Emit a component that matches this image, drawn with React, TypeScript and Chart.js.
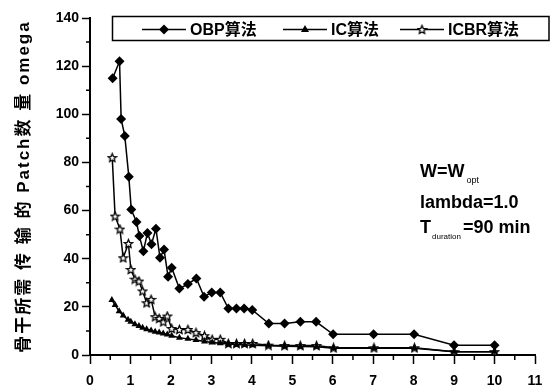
import React, { useEffect, useRef } from 'react';
import { Chart, registerables } from 'chart.js';

Chart.register(...registerables);

// ---- data ----
const obpX = [0.56, 0.73, 0.77, 0.86, 0.96, 1.02, 1.15, 1.22, 1.32, 1.42, 1.52, 1.63, 1.73, 1.83, 1.93, 2.02, 2.21, 2.42, 2.63, 2.82, 3.01, 3.22, 3.42, 3.62, 3.81, 4.01, 4.42, 4.81, 5.2, 5.59, 6.01, 7.01, 8.01, 9.0, 10.0];
const obpY = [115, 122, 98, 91, 74, 60.4, 55.3, 49.4, 43.1, 50.7, 46, 52.5, 40.4, 43.8, 32.5, 36.2, 27.6, 29.5, 31.8, 24.2, 26, 26, 19.3, 19.3, 19.3, 18.7, 13.1, 13.1, 13.8, 13.8, 8.6, 8.6, 8.6, 4.1, 4.1];

const icX = [0.54, 0.62, 0.72, 0.82, 0.94, 1.01, 1.11, 1.21, 1.3, 1.4, 1.51, 1.61, 1.71, 1.81, 1.91, 2.02, 2.21, 2.42, 2.62, 2.83, 3.02, 3.22, 3.42, 3.62, 3.82, 4.02, 4.41, 4.81, 5.2, 5.6, 6.02, 7.02, 8.02, 9.0, 10.0];
const icY = [22.8, 20.8, 18.2, 16.4, 14.6, 13.8, 12.8, 12.0, 11.3, 10.7, 10.2, 9.7, 9.3, 8.9, 8.5, 8.0, 7.2, 6.7, 6.2, 5.6, 5.2, 4.9, 4.6, 4.4, 4.2, 4.0, 3.8, 3.6, 3.5, 3.4, 2.8, 2.8, 2.8, 1.3, 1.3];

const icbrX = [0.55, 0.62, 0.74, 0.82, 0.95, 1.01, 1.11, 1.21, 1.3, 1.4, 1.51, 1.61, 1.71, 1.81, 1.91, 2.02, 2.21, 2.42, 2.62, 2.83, 3.02, 3.22, 3.42, 3.62, 3.82, 4.02, 4.41, 4.81, 5.2, 5.6, 6.02, 7.02, 8.02, 9.0, 10.0];
const icbrY = [82, 57.7, 52.3, 40.4, 46.3, 35.5, 31.5, 30.7, 26.6, 21.7, 23.1, 15.9, 15.2, 13.8, 16.2, 11, 10.6, 10.6, 9.3, 8.0, 6.5, 6.5, 4.8, 4.8, 4.8, 4.8, 4.1, 3.9, 3.9, 3.9, 3.0, 3.0, 3.0, 1.4, 1.4];

const seriesNames = ['OBP算法', 'IC算法', 'ICBR算法'];
const xMinorTicks = [0.5, 1.5, 2.5, 3.5, 4.5, 5.5, 6.5, 7.5, 8.5, 9.5, 10.5];
const yMinorTicks = [10, 30, 50, 70, 90, 110, 130];
const yTitle = '骨干所需 传 输 的 Patch数 量 omega';

const FONT = "'Liberation Sans', 'Noto Sans CJK SC', Arial, sans-serif";

function makeStar(): HTMLCanvasElement {
  const c = document.createElement('canvas');
  c.width = 11;
  c.height = 11;
  const g = c.getContext('2d')!;
  g.beginPath();
  for (let i = 0; i < 10; i++) {
    const r = i % 2 === 0 ? 4.4 : 2.0;
    const a = -Math.PI / 2 + (i * Math.PI) / 5;
    const px = 5.5 + r * Math.cos(a);
    const py = 5.9 + r * Math.sin(a);
    if (i === 0) g.moveTo(px, py);
    else g.lineTo(px, py);
  }
  g.closePath();
  g.fillStyle = '#fff';
  g.fill();
  g.strokeStyle = '#000';
  g.lineWidth = 1.3;
  g.stroke();
  return c;
}

export default function App() {
  const ref = useRef<HTMLCanvasElement | null>(null);

  useEffect(() => {
    if (!ref.current) return;
    const star = makeStar();

    const decor = {
      id: 'decor',
      beforeDraw(chart: any) {
        const { ctx, width, height } = chart;
        ctx.save();
        ctx.fillStyle = '#fff';
        ctx.fillRect(0, 0, width, height);
        ctx.restore();
      },
      afterDraw(chart: any) {
        const ctx: CanvasRenderingContext2D = chart.ctx;
        const xs = chart.scales.x;
        const ys = chart.scales.y;
        const { left, bottom, top } = chart.chartArea;
        ctx.save();
        ctx.strokeStyle = '#000';
        ctx.lineWidth = 1.5;
        ctx.beginPath();
        for (const v of xMinorTicks) {
          const px = xs.getPixelForValue(v);
          ctx.moveTo(px, bottom);
          ctx.lineTo(px, bottom + 5);
        }
        for (const v of yMinorTicks) {
          const py = ys.getPixelForValue(v);
          ctx.moveTo(left, py);
          ctx.lineTo(left - 4, py);
        }
        ctx.stroke();

        // y-axis title
        ctx.save();
        ctx.translate(24, (top + bottom) / 2);
        ctx.rotate(-Math.PI / 2);
        ctx.font = `bold 17px ${FONT}`;
        (ctx as any).letterSpacing = '2px';
        ctx.textAlign = 'center';
        ctx.textBaseline = 'middle';
        ctx.fillStyle = '#000';
        ctx.fillText(yTitle, 0, 0);
        ctx.restore();

        // legend box
        const bx = left + 22.5;
        const by = 16.5;
        const bw = 549 - bx;
        const bh = 24;
        ctx.lineWidth = 1.5;
        ctx.strokeRect(bx, by, bw, bh);
        const cy = by + bh / 2 + 1;
        const starts = [142, 283, 400];
        ctx.font = `bold 16px ${FONT}`;
        ctx.textBaseline = 'middle';
        ctx.fillStyle = '#000';
        starts.forEach((sx, i) => {
          ctx.beginPath();
          ctx.lineWidth = 1.5;
          ctx.moveTo(sx, cy);
          ctx.lineTo(sx + 44, cy);
          ctx.stroke();
          const mx = sx + 22;
          if (i === 0) {
            ctx.beginPath();
            ctx.moveTo(mx, cy - 5);
            ctx.lineTo(mx + 5, cy);
            ctx.lineTo(mx, cy + 5);
            ctx.lineTo(mx - 5, cy);
            ctx.closePath();
            ctx.fill();
          } else if (i === 1) {
            ctx.beginPath();
            ctx.moveTo(mx, cy - 4.5);
            ctx.lineTo(mx + 4, cy + 2.5);
            ctx.lineTo(mx - 4, cy + 2.5);
            ctx.closePath();
            ctx.fill();
          } else {
            ctx.drawImage(star, mx - 5.5, cy - 5.5);
          }
          ctx.fillText(seriesNames[i], sx + 48, cy + 1);
        });

        // annotation
        ctx.textBaseline = 'alphabetic';
        const ax = 420;
        ctx.font = `bold 18px ${FONT}`;
        ctx.fillText('W=W', ax, 177);
        let w = ctx.measureText('W=W').width;
        ctx.font = `9px ${FONT}`;
        ctx.fillText('opt', ax + w + 2, 183);
        ctx.font = `bold 18px ${FONT}`;
        ctx.fillText('lambda=1.0', ax, 208);
        ctx.fillText('T', ax, 233);
        w = ctx.measureText('T').width;
        ctx.font = `8px ${FONT}`;
        ctx.fillText('duration', ax + w + 1, 239);
        const w2 = ctx.measureText('duration').width;
        ctx.font = `bold 18px ${FONT}`;
        ctx.fillText('=90 min', ax + w + w2 + 3, 233);
        ctx.restore();
      },
    };

    const mk = (xs: number[], ys: number[]) => xs.map((x, i) => ({ x, y: ys[i] }));

    const chart = new Chart(ref.current, {
      type: 'line',
      data: {
        datasets: [
          {
            label: seriesNames[0],
            data: mk(obpX, obpY),
            borderColor: '#000',
            borderWidth: 1.5,
            pointStyle: 'rectRot',
            pointRadius: 5,
            pointBackgroundColor: '#000',
            pointBorderColor: '#000',
            pointBorderWidth: 0,
            tension: 0,
          },
          {
            label: seriesNames[1],
            data: mk(icX, icY),
            borderColor: '#000',
            borderWidth: 1.5,
            pointStyle: 'triangle',
            pointRadius: 4,
            pointBackgroundColor: '#000',
            pointBorderColor: '#000',
            pointBorderWidth: 0,
            tension: 0,
          },
          {
            label: seriesNames[2],
            data: mk(icbrX, icbrY),
            borderColor: '#000',
            borderWidth: 1.5,
            pointStyle: star as any,
            pointRadius: 5,
            tension: 0,
          },
        ],
      },
      options: {
        responsive: false,
        animation: false,
        layout: { padding: { left: 0, top: 18, right: 17, bottom: 0 } },
        plugins: {
          legend: { display: false },
          tooltip: { enabled: false },
        },
        scales: {
          x: {
            type: 'linear',
            min: 0,
            max: 11,
            afterFit: (s: any) => {
              s.height = 36;
            },
            ticks: {
              stepSize: 1,
              padding: 9,
              color: '#000',
              font: { family: FONT, size: 14, weight: 'bold' },
              maxRotation: 0,
            },
            grid: {
              display: true,
              drawOnChartArea: false,
              drawTicks: true,
              tickLength: 9,
              tickWidth: 1.5,
              tickColor: '#000',
              color: '#000',
            },
            border: { display: true, color: '#000', width: 2 },
          },
          y: {
            type: 'linear',
            min: 0,
            max: 140,
            afterFit: (s: any) => {
              s.width = 90;
            },
            ticks: {
              stepSize: 20,
              padding: 3,
              color: '#000',
              font: { family: FONT, size: 14, weight: 'bold' },
            },
            grid: {
              display: true,
              drawOnChartArea: false,
              drawTicks: true,
              tickLength: 8,
              tickWidth: 1.5,
              tickColor: '#000',
              color: '#000',
            },
            border: { display: true, color: '#000', width: 2 },
          },
        },
      },
      plugins: [decor],
    });

    return () => chart.destroy();
  }, []);

  return (
    <div style={{ position: 'absolute', left: 0, top: 0, width: 552, height: 391 }}>
      <canvas ref={ref} width={552} height={391} style={{ display: 'block' }} />
    </div>
  );
}
